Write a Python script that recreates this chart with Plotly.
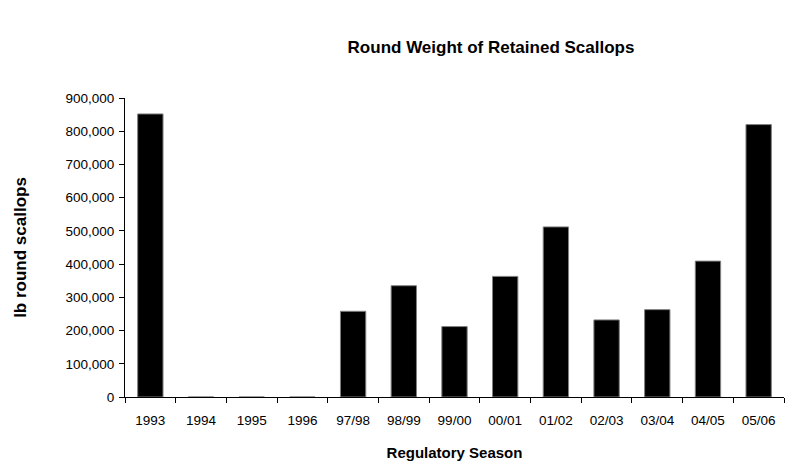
import plotly.graph_objects as go

seasons = ['1993', '1994', '1995', '1996', '97/98', '98/99', '99/00',
           '00/01', '01/02', '02/03', '03/04', '04/05', '05/06']
lb_round = [852000, 0, 0, 0, 258000, 335000, 212000,
            363000, 512000, 232000, 263000, 409000, 820000]
y_ticks = [0, 100000, 200000, 300000, 400000, 500000, 600000, 700000, 800000, 900000]

font_family = 'Liberation Sans, Arial, sans-serif'

fig = go.Figure(
    data=[
        go.Bar(
            x=seasons,
            y=lb_round,
            marker_color='black',
            marker_line_color='rgb(128,128,128)',
            marker_line_width=1,
        )
    ],
    layout=go.Layout(
        width=811,
        height=469,
        paper_bgcolor='white',
        plot_bgcolor='white',
        font=dict(family=font_family, color='black', size=13.5),
        margin=dict(t=90, b=80, l=117, r=35),
        bargap=0.5,
        showlegend=False,
        title=dict(
            text='<b>Round Weight of Retained Scallops</b>',
            font=dict(size=17, family=font_family, color='black'),
            xref='container', x=483 / 811, xanchor='center',
            yref='container', y=1 - 39 / 469, yanchor='middle',
        ),
        xaxis=dict(
            type='category',
            showline=True, linecolor='black', linewidth=1,
            ticks='outside', tickson='boundaries', ticklen=5,
            tickcolor='black', ticklabelstandoff=11, tickangle=0,
            showgrid=False, zeroline=False,
            title=dict(text='<b>Regulatory Season</b>', standoff=20,
                       font=dict(size=15)),
            automargin=False,
        ),
        yaxis=dict(
            range=[0, 900000],
            tickvals=y_ticks,
            tickformat=',',
            showline=True, linecolor='black', linewidth=1,
            ticks='outside', ticklen=5, tickcolor='black',
            ticklabelstandoff=2,
            showgrid=False, zeroline=False,
            title=dict(text='<b>lb round scallops</b>', standoff=34,
                       font=dict(size=17)),
            automargin=False,
        ),
    )
)

fig.write_html('out.html')
